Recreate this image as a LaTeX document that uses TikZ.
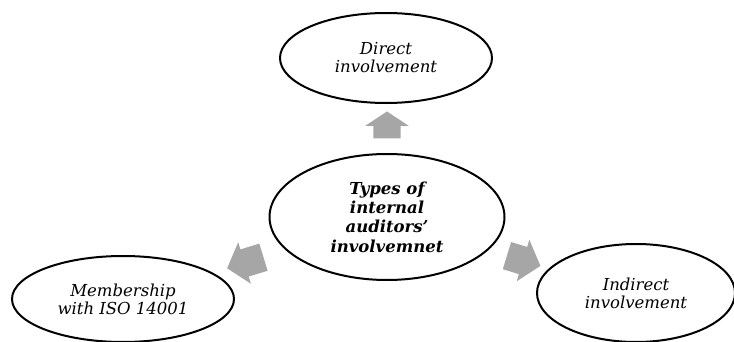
\documentclass[tikz,border=0pt]{standalone}
\usepackage{fontspec}
\setmainfont{DejaVu Serif}
\usetikzlibrary{shapes.geometric,shapes.arrows}
\definecolor{arrowgray}{HTML}{A6A6A6}
\begin{document}
\begin{tikzpicture}[x=1pt,y=-1pt,line cap=round,line join=round,
	oval/.style={ellipse,draw,line width=2pt,inner sep=0pt,align=center,font=\itshape\fontsize{16.5}{18}\selectfont},
	blockarrow/.style={single arrow,fill=arrowgray,draw=none,inner xsep=0pt,inner ysep=14pt,single arrow head extend=7.5pt,shape border uses incircle=false}]
	\useasboundingbox (0,0) rectangle (734,342);
	\node[oval,minimum width=235pt,minimum height=126pt,font=\bfseries\itshape\fontsize{16.5}{19.3}\selectfont] (types) at (387,217) {Types of\\internal\\auditors'\\involvemnet};
	\node[oval,minimum width=212pt,minimum height=90pt] (direct) at (386,58) {Direct\\involvement};
	\node[oval,minimum width=222pt,minimum height=86pt] (member) at (123,299) {Membership\\with ISO 14001};
	\node[oval,minimum width=198pt,minimum height=98pt] (indirect) at (636,293) {Indirect\\involvement};
	\node[blockarrow,minimum height=27pt,inner ysep=13.5pt,single arrow head extend=8pt,single arrow tip angle=113,rotate=90] (upArrow) at (387,129.5) {};
	\node[blockarrow,minimum height=38pt,single arrow tip angle=100,rotate=197] (leftArrow) at (251,261) {};
	\node[blockarrow,minimum height=35pt,single arrow tip angle=100,rotate=-17] (rightArrow) at (518,259) {};
\end{tikzpicture}
\end{document}
